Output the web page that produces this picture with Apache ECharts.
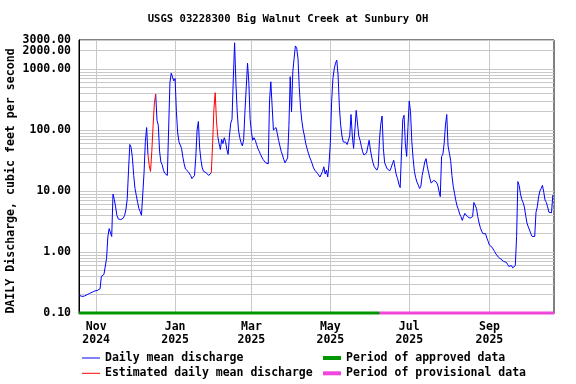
<!DOCTYPE html>
<html><head><meta charset="utf-8">
<script src="https://cdn.jsdelivr.net/npm/echarts@6/dist/echarts.min.js"></script>
<style>html,body{margin:0;padding:0;background:#fff}#c{width:576px;height:384px}</style>
</head><body><div id="c"></div>
<script>
const chartTitle = 'USGS 03228300 Big Walnut Creek at Sunbury OH';
const yAxisName = 'DAILY Discharge, cubic feet per second';
const firstDay = '2024-10-19';

// Daily mean discharge, ft3/s, by month
const oct2024 = [0.195,0.19,0.187,0.187,0.19,0.2,0.2,0.205,0.21,0.215,0.22,0.225,0.23];
const nov2024 = [0.235,0.235,0.24,0.25,0.4,0.42,0.43,0.45,0.78,1.76,2.42,2.45,1.8,8.9,7.3,5.5,4.0,3.5,3.4,3.4,3.5,3.6,4.0,5.0,7.5,22,58,52,35,18];
const dec2024 = [11,8.5,6.5,5.2,4.6,4.0,3.8,20,65,110,40,26,21,45,120,280,390,145,120,45,30,27,22,19.6,18.4,18,17.3,600,860,850,640];
const jan2025 = [700,200,90,64,60,50,36,28,23,22,21,20.6,18,16,15.5,18,36,100,138,50,32,24,21,20,20,19,18,18,20,60,220];
const feb2025 = [410,140,78,60,48,70,60,75,65,48,40,80,130,150,700,2700,600,200,100,75,62,55,70,200,500,1250,600,150];
const mar2025 = [92,68,75,68,58,50,45,40,36,33,31,29,29,28,300,620,250,100,100,110,88,68,55,45,39,33,29,27,35,120,750];
const apr2025 = [200,900,1500,2400,2200,1500,500,230,140,100,80,60,50,42,36,32,28,24,22,20.5,19.6,19,17,17,21,25,19,22,17,28];
const may2025 = [60,290,700,1000,1250,1400,800,240,120,80,64,61,63,58,54,80,180,80,50,47,210,200,80,68,54,44,39,38,42,40,68];
const jun2025 = [47,36,29,25,23.6,22,25,70,125,170,50,29,27,23,23,21.5,24,28,32,24,18.4,16,13,11.4,11.4,150,175,60,37,110];
const jul2025 = [300,200,65,34,21,16.5,14,12.5,11,12,18,23,30,34,25,20,16,13.5,13,15,14.3,14,12.6,10,8.1,37,40,60,120,180,55];
const aug2025 = [42,32,18,12,9.2,7,5.7,5,4.2,3.8,3.3,3.8,4.3,4.0,3.8,3.6,3.6,3.6,3.8,6.5,6.3,5.2,3.8,3.0,2.5,2.2,2.0,2.0,2.0,1.7,1.5];
const sep2025 = [1.3,1.25,1.2,1.12,1.02,0.93,0.87,0.82,0.78,0.76,0.73,0.7,0.68,0.68,0.63,0.58,0.58,0.6,0.55,0.56,0.6,1.8,14.3,12.3,9,7.3,6.5,5.5,4.0,3.0];
const oct2025 = [2.6,2.3,2.0,1.8,1.7,1.8,4.5,5.5,8,10,11,12.4,9.6,7.1,6.5,5.5,4.5,4.2,4.4,8.6];

const estimatedPeriods = [['2024-12-11','2024-12-17'],['2025-01-29','2025-02-03']];
const approvedUntil = '2025-06-08';

const yLabelValues = [0.1,1,10,100,1000,2000,3000];
const yGridValues = [0.1,0.2,0.3,0.4,0.5,0.6,0.7,0.8,0.9,1,2,3,4,5,6,7,8,9,10,20,30,40,50,60,70,80,90,100,200,300,400,500,600,700,800,900,1000,2000,3000];
const xTickDates = ['2024-11-01','2025-01-01','2025-03-01','2025-05-01','2025-07-01','2025-09-01'];
const xTickLabels = ['Nov\n2024','Jan\n2025','Mar\n2025','May\n2025','Jul\n2025','Sep\n2025'];

const legendNames = ['Daily mean discharge','Estimated daily mean discharge','Period of approved data','Period of provisional data'];

function parseDay(s){ const p = s.split('-').map(Number); return new Date(p[0], p[1]-1, p[2]).getTime(); }
const flow = [].concat(oct2024,nov2024,dec2024,jan2025,feb2025,mar2025,apr2025,may2025,jun2025,jul2025,aug2025,sep2025,oct2025);
const fp = firstDay.split('-').map(Number);
const times = flow.map((v,i)=> new Date(fp[0], fp[1]-1, fp[2]+i).getTime());
const t0 = times[0];
const dayIdx = s => Math.round((parseDay(s)-t0)/86400000);
const estIdx = estimatedPeriods.map(r => [dayIdx(r[0]), dayIdx(r[1])]);

const blueData = flow.map((v,i)=>{
  const inside = estIdx.some(r => i > r[0] && i < r[1]);
  return [times[i], inside ? null : v];
});
const redData = [];
estIdx.forEach((r,k)=>{
  if (k>0) redData.push([times[r[0]-1], null]);
  for (let i=r[0]; i<=r[1]; i++) redData.push([times[i], flow[i]]);
});

const xMin = new Date(2024,9,18,17).getTime();
const xMax = new Date(2025,9,20,22).getTime();
const yMin = yLabelValues[0];
const yMax = yLabelValues[yLabelValues.length-1];
const tApproved = parseDay(approvedUntil);

// nudge the extreme values inward so floating-point extent checks keep them
const nudge = v => v === yMax ? v*(1-1e-7) : (v === yMin ? v*(1+1e-7) : v);
const yGridPositions = yGridValues.map(nudge);
// labels drawn on two overlaid axes so the close 2000/3000 labels are not hidden
const yLabelsA = yLabelValues.filter((v,i) => i % 2 === 0 || v < 1000).map(nudge);
const yLabelsB = yLabelValues.filter(v => yLabelsA.indexOf(nudge(v)) < 0).map(nudge);

const xTickTimes = xTickDates.map(parseDay);
function xLabel(v){
  let best = 0, bd = Infinity;
  xTickTimes.forEach((t,i)=>{ const d = Math.abs(t - v); if (d < bd){ bd = d; best = i; } });
  return bd < 86400000 ? xTickLabels[best] : '';
}

const FONT = 'DejaVu Sans Mono';
const labelStyle = {fontFamily: FONT, fontWeight: 'bold', fontSize: 11.5, color: '#000'};
const chart = echarts.init(document.getElementById('c'), null, {renderer:'canvas'});
chart.setOption({
  animation: false,
  backgroundColor: '#fff',
  title: {
    text: chartTitle, left: 'center', top: 14, padding: 0,
    textStyle: {fontFamily: FONT, fontWeight: 'bold', fontSize: 10.6, color: '#000'}
  },
  graphic: [{
    type: 'text', x: 11, y: 181, rotation: Math.PI/2,
    style: {text: yAxisName, fontFamily: FONT, fontWeight: 'bold', fontSize: 11.6, fill: '#000', align: 'center', verticalAlign: 'middle'}
  }],
  legend: [{
    orient: 'vertical', left: 82, top: 350.5, padding: 0, itemGap: 0.3,
    itemWidth: 18, itemHeight: 1, icon: 'rect',
    textStyle: Object.assign({lineHeight: 15}, labelStyle),
    data: [legendNames[0], legendNames[1]], selectedMode: false
  },{
    orient: 'vertical', left: 323, top: 350.5, padding: 0, itemGap: 0.3,
    itemWidth: 18, itemHeight: 4, icon: 'rect',
    textStyle: Object.assign({lineHeight: 15}, labelStyle),
    data: [legendNames[2], legendNames[3]], selectedMode: false
  }],
  grid: {left: 79, right: 22, top: 40, bottom: 71, show: true, borderColor: '#000', borderWidth: 1, backgroundColor: '#fff'},
  xAxis: {
    type: 'value', min: xMin, max: xMax, scale: true,
    axisLine: {show: true, lineStyle: {color: '#000', width: 1}},
    axisTick: {show: false, customValues: xTickTimes},
    splitLine: {show: true, lineStyle: {color: '#c8c8c8', width: 1}},
    axisLabel: Object.assign({
      customValues: xTickTimes, margin: 8, hideOverlap: false,
      formatter: v => xLabel(v), lineHeight: 13
    }, labelStyle)
  },
  yAxis: [{
    type: 'log', logBase: 10, min: yMin, max: yMax,
    axisLine: {show: true, lineStyle: {color: '#000', width: 1}},
    axisTick: {show: false, customValues: yGridPositions},
    splitLine: {show: true, lineStyle: {color: '#c8c8c8', width: 1}},
    axisLabel: Object.assign({
      customValues: yLabelsA, margin: 8, hideOverlap: false,
      showMinLabel: true, showMaxLabel: true, lineHeight: 9,
      formatter: v => Number(v).toFixed(2)
    }, labelStyle)
  },{
    type: 'log', logBase: 10, min: yMin, max: yMax, position: 'left',
    axisLine: {show: false}, axisTick: {show: false, customValues: yLabelsB}, splitLine: {show: false},
    axisLabel: Object.assign({
      customValues: yLabelsB, margin: 8, hideOverlap: false,
      showMinLabel: true, showMaxLabel: true, lineHeight: 9,
      formatter: v => Number(v).toFixed(2)
    }, labelStyle)
  }],
  series: [{
    name: legendNames[0], type: 'line', data: blueData, showSymbol: false, symbol: 'none',
    connectNulls: false, lineStyle: {color: '#0000ff', width: 1}, itemStyle: {color: '#0000ff'}, z: 3
  },{
    name: legendNames[1], type: 'line', data: redData, showSymbol: false, symbol: 'none',
    connectNulls: false, lineStyle: {color: '#ff0000', width: 1}, itemStyle: {color: '#ff0000'}, z: 4
  },{
    name: legendNames[2], type: 'line', data: [[xMin, yMin],[tApproved, yMin]], showSymbol: false, symbol: 'none',
    clip: false, lineStyle: {color: '#009600', width: 3}, itemStyle: {color: '#009600'}, z: 5
  },{
    name: legendNames[3], type: 'line', data: [[tApproved, yMin],[xMax, yMin]], showSymbol: false, symbol: 'none',
    clip: false, lineStyle: {color: '#f046dc', width: 3}, itemStyle: {color: '#f046dc'}, z: 5
  }]
});
</script></body></html>
